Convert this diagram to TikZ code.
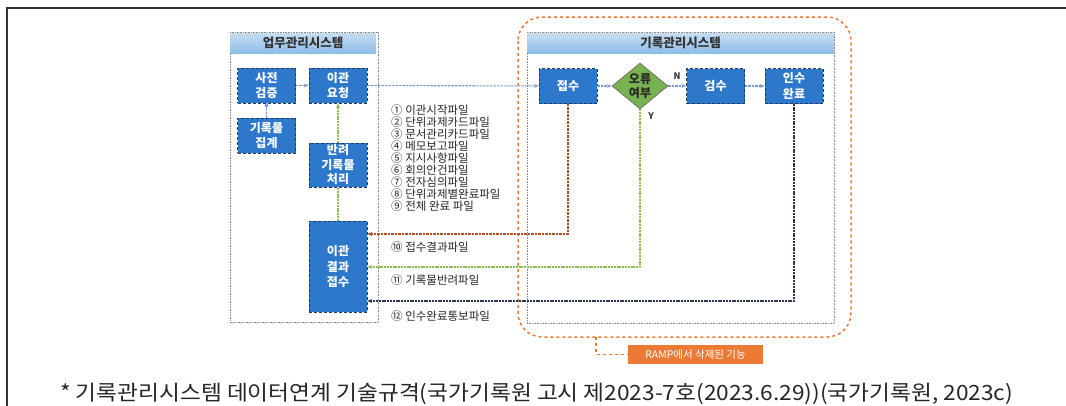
\documentclass[tikz,border=0pt]{standalone}
\usepackage{fontspec}
\usepackage{graphicx}
\setmainfont{Noto Sans CJK KR}
\usetikzlibrary{arrows.meta,shapes.geometric}
\definecolor{nodeblue}{HTML}{2E78CC}
\definecolor{nodeedge}{HTML}{1F3D66}
\definecolor{hdrtop}{HTML}{C6DDF2}
\definecolor{hdrbot}{HTML}{8EBDE8}
\definecolor{connblue}{HTML}{7C9CCB}
\definecolor{conngreen}{HTML}{8FC04E}
\definecolor{connbrown}{HTML}{B0502A}
\definecolor{connnavy}{HTML}{2A3550}
\definecolor{dgreen}{HTML}{78B150}
\definecolor{orng}{HTML}{EC7A35}
\tikzset{
  proc/.style={draw=nodeedge, densely dashed, line width=0.6pt, fill=nodeblue,
    text=white, font=\fontsize{12}{15.5}\selectfont\bfseries, align=center,
    minimum width=58pt, minimum height=35pt, inner sep=1pt},
  sysbox/.style={draw=black!45, densely dotted, line width=0.6pt},
  hdr/.style={top color=hdrtop, bottom color=hdrbot, draw=none,
    font=\fontsize{12.5}{13}\selectfont\bfseries, text=black!80,
    minimum height=20pt, inner sep=0pt},
  cb/.style={draw=connblue, dash pattern=on 2.5pt off 1pt, line width=1.1pt, -{Stealth[length=5pt,width=4pt]}},
  cg/.style={draw=conngreen, dash pattern=on 2pt off 0.8pt, line width=1.1pt, -{Stealth[length=5pt,width=4pt]}},
  cbr/.style={draw=connbrown, dash pattern=on 2.5pt off 1pt, line width=1.2pt, -{Stealth[length=5pt,width=4pt]}},
  cn/.style={draw=connnavy, dash pattern=on 2pt off 0.8pt, line width=1.3pt, -{Stealth[length=5pt,width=4pt]}},
  lbl/.style={font=\fontsize{11.5}{11.9}\selectfont, text=black!85, align=left, inner sep=0pt},
  yn/.style={font=\fontsize{9}{9}\selectfont\bfseries, text=black!80, inner sep=0pt},
}
\begin{document}
\begin{tikzpicture}[x=1pt,y=-1pt]
\useasboundingbox (0,0) rectangle (1066,405);
\clip (0,0) rectangle (1066,405);
\fill[white] (0,0) rectangle (1066,405);
\draw[line width=1.6pt, black!80] (7,406) -- (7,8) -- (1067,8);

% system boxes
\draw[sysbox] (230,32) rectangle (378,322);
\node[hdr, minimum width=145pt] (h1) at (303,43) {업무관리시스템};
\draw[sysbox] (527,32) rectangle (834,323);
\node[hdr, minimum width=306pt] (h2) at (680.5,43) {기록관리시스템};

% orange region
\draw[orng, dashed, line width=1.5pt, rounded corners=24pt] (518,17) rectangle (851,337);
\coordinate (cst) at (596,337);
\node[fill=orng, text=white, font=\fontsize{10.5}{11}\selectfont, minimum width=135pt, minimum height=19pt, inner sep=0pt] (ramp) at (695.5,354.5) {RAMP에서 삭제된 기능};
\draw[orng, dashed, line width=1.3pt] (cst) |- (ramp.west);

% nodes
\node[proc] (sj) at (266.5,85.5) {사전\\검증};
\node[proc] (yc) at (338,85.5) {이관\\요청};
\node[proc] (jg) at (266.5,135.5) {기록물\\집계};
\node[proc, minimum height=44pt, font=\fontsize{12}{14.5}\selectfont\bfseries] (bh) at (338,165) {반려\\기록물\\처리};
\node[proc, minimum height=91pt] (ig) at (338,266.5) {이관\\결과\\접수};
\node[proc] (js) at (568,86) {접수};
\node[diamond, draw=black!60, line width=0.6pt, fill=dgreen, aspect=1.2, minimum width=56pt, minimum height=46pt, inner sep=0pt,
  font=\fontsize{12}{14.5}\selectfont\bfseries, align=center, text=black!85] (err) at (640,86) {오류\\여부};
\node[proc] (gs) at (715.5,86) {검수};
\node[proc] (iw) at (794,86) {인수\\완료};

% connectors
\draw[cb] (sj) -- (yc);
\draw[draw=connblue, dash pattern=on 2.5pt off 1pt, line width=1.1pt, -{Circle[length=4pt]}] (jg) -- (sj);
\draw[cg] (bh) -- (yc);
\draw[draw=conngreen, dash pattern=on 2pt off 0.8pt, line width=1.1pt] (ig) -- (bh);
\draw[cb] (yc) -- (js);
\draw[cb] (js) -- (err);
\draw[cb] (err) -- (gs);
\node[yn] (nl) at (677,76) {N};
\draw[cb] (gs) -- (iw);
\draw[cbr] (js.south) |- (ig.east |- 0,234);
\draw[cg] (err.south) |- (ig.east |- 0,267);
\node[yn] (yl) at (651,116) {Y};
\draw[cn] (iw.south) |- (ig.east |- 0,301);

% labels
\node[lbl, anchor=north west] (list) at (391,105) {① 이관시작파일\\② 단위과제카드파일\\③ 문서관리카드파일\\④ 메모보고파일\\⑤ 지시사항파일\\⑥ 회의안건파일\\⑦ 전자심의파일\\⑧ 단위과제별완료파일\\⑨ 전체 완료 파일};
\node[lbl, anchor=west] (l10) at (391,247) {⑩ 접수결과파일};
\node[lbl, anchor=west] (l11) at (391,280) {⑪ 기록물반려파일};
\node[lbl, anchor=west] (l12) at (391,316) {⑫ 인수완료통보파일};

% caption
\node[anchor=base west, inner sep=0pt, text=black!85] (cap) at (60,400.5)
  {\resizebox{953pt}{\height}{\fontsize{21}{21}\selectfont * 기록관리시스템 데이터연계 기술규격(국가기록원 고시 제2023-7호(2023.6.29))(국가기록원, 2023c)}};
\end{tikzpicture}
\end{document}
